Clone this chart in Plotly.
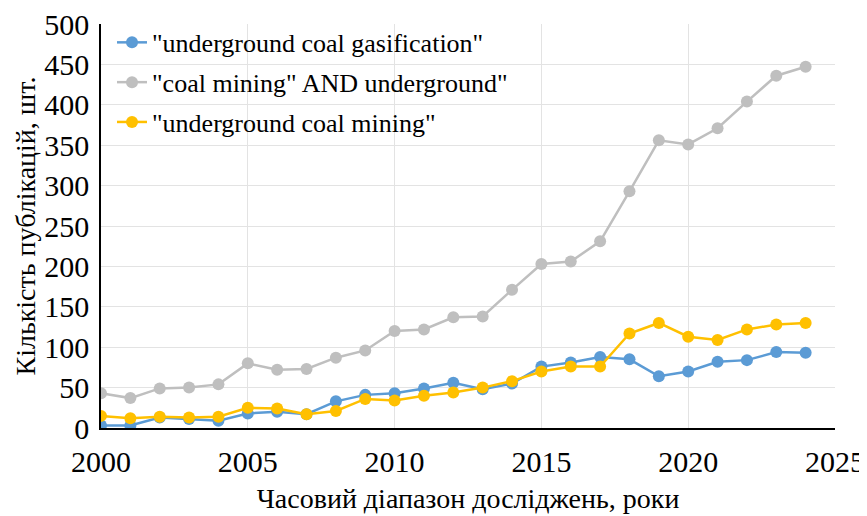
import plotly.graph_objects as go

# years of publication
years = list(range(2000, 2025))

# "underground coal gasification"
ucg = [3, 3, 13, 11, 9, 18, 20, 17, 33, 41, 43, 49, 56, 48, 55, 76, 81, 88, 85, 64, 70, 82, 84, 94, 93]
# "coal mining" AND underground
cm_und = [43, 37, 49, 50, 54, 80, 72, 73, 87, 96, 120, 122, 137, 138, 171, 203, 206, 231, 293, 356, 351, 371, 404, 436, 447]
# "underground coal mining"
ucm = [15, 12, 14, 13, 14, 25, 24, 17, 21, 36, 34, 40, 44, 50, 58, 70, 76, 76, 117, 130, 113, 109, 122, 128, 130]

names = [
    '"underground coal gasification"',
    '"coal mining" AND underground"',
    '"underground coal mining"',
]
colours = ["#5B9BD5", "#BFBFBF", "#FFC000"]

FONT = "Liberation Serif, Times New Roman, serif"

fig = go.Figure()
for i, vals in enumerate([ucg, cm_und, ucm]):
    fig.add_trace(
        go.Scatter(
            x=years,
            y=vals,
            name=names[i],
            mode="lines+markers",
            line=dict(color=colours[i], width=2.5),
            marker=dict(color=colours[i], size=12),
            legendgroup=str(i),
        )
    )

# page body has an 8px margin, so the figure is sized to fit the window
fig.update_layout(
    width=859,
    height=508,
    autosize=False,
    plot_bgcolor="white",
    paper_bgcolor="white",
    font=dict(family=FONT, size=28, color="black"),
    margin=dict(l=93, r=32, t=15, b=88),
    legend=dict(
        x=0.015,
        y=1.01,
        xanchor="left",
        yanchor="top",
        bgcolor="rgba(0,0,0,0)",
        font=dict(size=26),
        tracegroupgap=3,
        traceorder="grouped",
    ),
)

fig.update_xaxes(
    range=[2000, 2025],
    dtick=5,
    tick0=2000,
    automargin=False,
    ticklabeloverflow="allow",
    showgrid=True,
    gridcolor="#E3E3E3",
    gridwidth=1,
    showline=True,
    linecolor="black",
    linewidth=1.5,
    zeroline=False,
    ticks="",
    ticklabelstandoff=6,
    tickfont=dict(size=30),
    title=dict(text="Часовий діапазон досліджень, роки", font=dict(size=28), standoff=12),
)
fig.update_yaxes(
    range=[0, 500],
    dtick=50,
    automargin=False,
    ticklabeloverflow="allow",
    showgrid=True,
    gridcolor="#E3E3E3",
    gridwidth=1,
    showline=True,
    linecolor="black",
    linewidth=1.5,
    zeroline=False,
    ticks="",
    ticklabelstandoff=4,
    tickfont=dict(size=30),
    title=dict(text="Кількість публікацій, шт.", font=dict(size=28), standoff=0),
)

fig.write_html("out.html")
